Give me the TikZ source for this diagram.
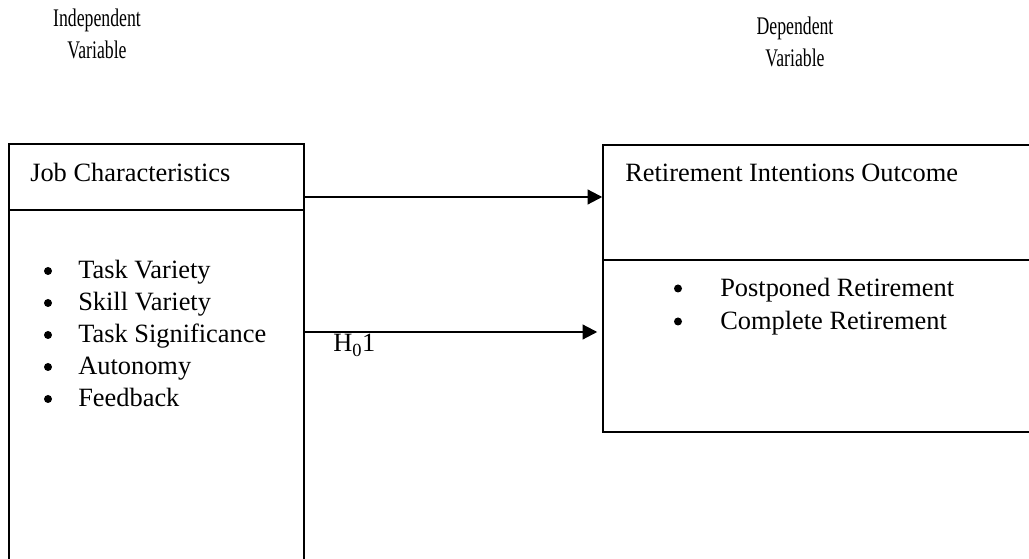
\documentclass[tikz,border=0pt]{standalone}
\usepackage{fontspec}
\setmainfont{Liberation Serif}
\usetikzlibrary{arrows.meta,fit}

\newcommand{\narrow}[1]{\scalebox{0.7}[1]{#1}}

\begin{document}
\begin{tikzpicture}[
		x=0.75pt, y=-0.75pt,
		box/.style={draw, line width=1.1pt, inner sep=0pt},
		txt/.style={font=\fontsize{19.8}{24}\selectfont, inner sep=0pt},
		head/.style={font=\fontsize{19}{24}\selectfont, inner sep=0pt, align=center, anchor=north},
		bul/.style={circle, fill, inner sep=0pt, minimum size=6pt},
		link/.style={-{Triangle[length=11pt, width=11pt]}, line width=1.6pt}
	]
	\useasboundingbox (0,0) rectangle (1029,559);

	\node[head] (indep) at (97,9) {\narrow{Independent}\\\narrow{Variable}};
	\node[head] (dep) at (795,17) {\narrow{Dependent}\\\narrow{Variable}};

	\node[box, fit={(9,144) (304,210)}] (jobhead) {};
	\node[box, fit={(9,210) (304,600)}] (jobbody) {};
	\node[box, fit={(603,145) (1060,260)}] (rethead) {};
	\node[box, fit={(603,260) (1060,432)}] (retbody) {};

	\node[txt, anchor=base west] (jobtitle) at (30,182) {Job Characteristics};
	\node[txt, anchor=base west] (rettitle) at (625,182) {Retirement Intentions Outcome};

	\node[bul] (jb1) at (48,271) {};
	\node[txt, anchor=base west] (jt1) at (78,279) {Task Variety};
	\node[bul] (jb2) at (48,303) {};
	\node[txt, anchor=base west] (jt2) at (78,311) {Skill Variety};
	\node[bul] (jb3) at (48,335) {};
	\node[txt, anchor=base west] (jt3) at (78,343) {Task Significance};
	\node[bul] (jb4) at (48,367) {};
	\node[txt, anchor=base west] (jt4) at (78,375) {Autonomy};
	\node[bul] (jb5) at (48,399) {};
	\node[txt, anchor=base west] (jt5) at (78,407) {Feedback};

	\node[bul] (rb1) at (678,288.5) {};
	\node[txt, anchor=base west] (rt1) at (720,297) {Postponed Retirement};
	\node[bul] (rb2) at (678,321.5) {};
	\node[txt, anchor=base west] (rt2) at (720,330) {Complete Retirement};

	\node[txt, anchor=base west] (hyp) at (333,352) {H\textsubscript{0}1};

	\coordinate (arrA) at (0,197);
	\coordinate (arrB) at (0,332);
	\draw[link] (jobhead.east |- arrA) -- (rethead.west |- arrA);
	\draw[link, shorten >=3.75pt] (jobbody.east |- arrB) -- (retbody.west |- arrB);
\end{tikzpicture}
\end{document}
